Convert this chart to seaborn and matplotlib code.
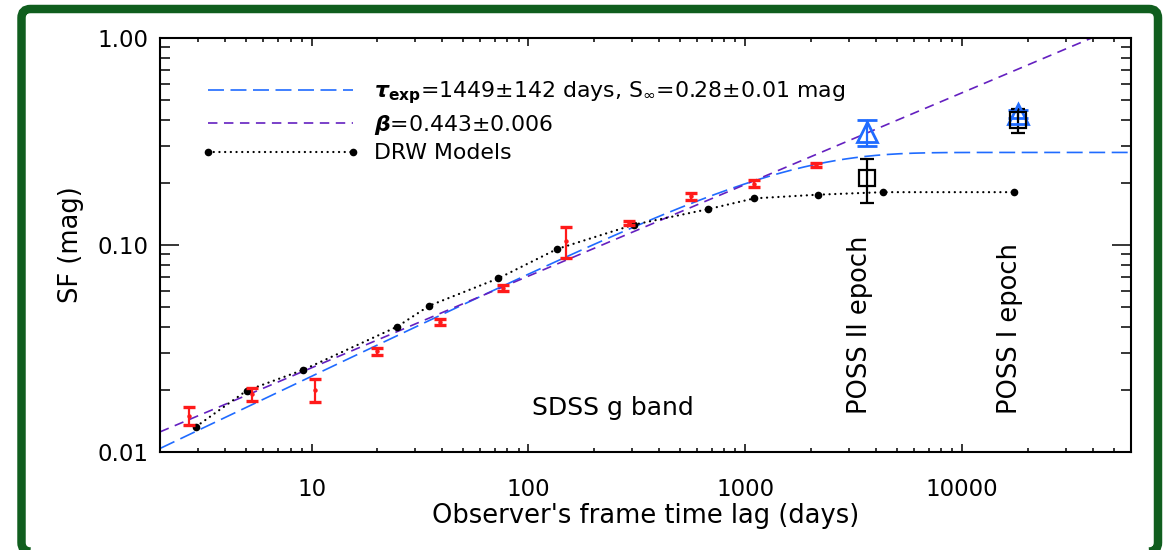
import numpy as np
import matplotlib
matplotlib.use("Agg")
import matplotlib.pyplot as plt
import seaborn as sns
from matplotlib.patches import FancyBboxPatch
from matplotlib.transforms import IdentityTransform
from matplotlib.ticker import FixedLocator, FixedFormatter, LogLocator, NullFormatter

# ---------------- data ----------------
sdss_lag = [2.72, 5.33, 10.35, 20.0, 39.2, 76.6, 148.6, 290.8, 560.7, 1091, 2128]
sdss_sf = [0.0150, 0.0190, 0.0200, 0.0306, 0.0424, 0.0621, 0.1040, 0.128, 0.172, 0.198, 0.2435]
sdss_err = [0.0015, 0.0013, 0.0025, 0.0012, 0.0013, 0.0019, 0.0175, 0.0033, 0.007, 0.0075, 0.006]

drw_lag = [2.93, 5.02, 9.12, 24.8, 34.9, 72.6, 135.7, 305.5, 674, 1099, 2158, 4325, 17260]
drw_sf = [0.01325, 0.0198, 0.0249, 0.0403, 0.0509, 0.069, 0.0957, 0.1253, 0.149, 0.168, 0.175, 0.180, 0.180]

poss_lag = [3627, 17990]
poss_sf_black = [0.21, 0.40]
poss_err_black = [0.051, 0.052]
poss_sf_blue = [0.35, 0.43]
poss_err_blue = [0.05, 0.02]

TAU_EXP = 1449.0     # days
SF_INF = 0.28        # mag
BETA = 0.443
PL_AMP = 0.0092      # power-law amplitude (SF at 1 day)

x_ticks = [10, 100, 1000, 10000]
x_ticklabels = ["10", "100", "1000", "10000"]
y_ticks = [0.01, 0.1, 1.0]
y_ticklabels = ["0.01", "0.10", "1.00"]

legend_labels = [
    r"$\boldsymbol{\tau}_{\mathbf{exp}}$=1449±142 days, S$_{\infty}$=0.28±0.01 mag",
    r"$\boldsymbol{\beta}$=0.443±0.006",
    "DRW Models",
]

BLUE = "#1F6BFF"
PURPLE = "#6420C0"
RED = "#FF1A1A"
GREEN = "#105E1E"

# ---------------- figure ----------------
sns.set_theme(style="ticks")
plt.rcParams["font.family"] = ["DejaVu Sans"]
plt.rcParams["mathtext.fontset"] = "dejavusans"
plt.rcParams["lines.scale_dashes"] = False

fig = plt.figure(figsize=(11.65, 5.5), dpi=100)
fig.patch.set_facecolor("white")
ax = fig.add_axes([160 / 1165, 1 - 452 / 550, 971 / 1165, 414 / 550])
ax.set_facecolor("white")
ax.set_xscale("log")
ax.set_yscale("log")

t = np.logspace(np.log10(2), np.log10(60000), 500)
sf_drw_fit = SF_INF * np.sqrt(1 - np.exp(-t / TAU_EXP))
sf_pl_fit = PL_AMP * t ** BETA

sns.lineplot(x=t, y=sf_drw_fit, ax=ax, color=BLUE, linewidth=1.2, legend=False, sort=False)
h_blue = ax.lines[-1]
h_blue.set_dashes((11.5, 4.7))

sns.lineplot(x=t, y=sf_pl_fit, ax=ax, color=PURPLE, linewidth=1.2, legend=False, sort=False)
h_purple = ax.lines[-1]
h_purple.set_dashes((6.8, 4.7))

sns.lineplot(x=drw_lag, y=drw_sf, ax=ax, color="black", linewidth=1.6, marker="o",
             markersize=5.5, markeredgewidth=0, legend=False, sort=False)
h_drw = ax.lines[-1]
h_drw.set_dashes((0.1, 4.0))
h_drw.set_dash_capstyle("round")

# SDSS structure function with error bars
ax.errorbar(sdss_lag, sdss_sf, yerr=sdss_err, fmt="o", color=RED, ms=2.2,
            elinewidth=1.6, capsize=4, capthick=2.4, zorder=5)

# POSS points
ax.errorbar(poss_lag, poss_sf_blue, yerr=poss_err_blue, fmt="^", color=BLUE, mfc="none",
            mec=BLUE, ms=15, mew=2.0, elinewidth=1.6, capsize=7, capthick=1.8, zorder=6)
ax.errorbar(poss_lag, poss_sf_black, yerr=poss_err_black, fmt="s", color="black", mfc="none",
            mec="black", ms=11, mew=1.6, elinewidth=1.6, capsize=5, capthick=1.6, zorder=6)

ax.set_xlim(2, 60000)
ax.set_ylim(0.01, 1.0)

# ticks
ax.xaxis.set_major_locator(FixedLocator(x_ticks))
ax.xaxis.set_major_formatter(FixedFormatter(x_ticklabels))
ax.xaxis.set_minor_locator(LogLocator(base=10, subs=np.arange(2, 10), numticks=20))
ax.xaxis.set_minor_formatter(NullFormatter())
ax.yaxis.set_major_locator(FixedLocator(y_ticks))
ax.yaxis.set_major_formatter(FixedFormatter(y_ticklabels))
ax.yaxis.set_minor_locator(LogLocator(base=10, subs=np.arange(2, 10), numticks=20))
ax.yaxis.set_minor_formatter(NullFormatter())

ax.tick_params(which="both", direction="in", top=True, right=True, width=1.1,
               color="black", labelcolor="black", labelsize=16.5)
ax.tick_params(axis="y", which="major", length=14, pad=8)
ax.tick_params(axis="y", which="minor", length=7.5)
ax.tick_params(axis="x", which="major", length=6, pad=19)
ax.tick_params(axis="x", which="minor", length=3)
for s in ax.spines.values():
    s.set_visible(True)
    s.set_linewidth(1.5)
    s.set_color("black")

ax.set_xlabel("Observer's frame time lag (days)", fontsize=18.5, labelpad=1, color="black")
ax.set_ylabel("SF (mag)", fontsize=18.5, labelpad=10, color="black")

# annotations
ax.text(0.4665, 0.106, "SDSS g band", transform=ax.transAxes, fontsize=18,
        ha="center", va="center", color="black")
ax.text(0.721, 0.307, "POSS II epoch", transform=ax.transAxes, fontsize=18.5,
        ha="center", va="center", rotation=90, color="black")
ax.text(0.8754, 0.298, "POSS I epoch", transform=ax.transAxes, fontsize=18.5,
        ha="center", va="center", rotation=90, color="black")

leg = ax.legend([h_blue, h_purple, h_drw], legend_labels, loc="upper left",
                bbox_to_anchor=(0.043, 0.90), frameon=False, fontsize=15.8,
                handlelength=7.2, handletextpad=0.65, labelspacing=0.3,
                borderpad=0, borderaxespad=0, numpoints=2)
for txt in leg.get_texts():
    txt.set_color("black")

# green rounded frame (pixel coordinates)
frame = FancyBboxPatch((21.5, -1.5), 1136.5, 542.5, boxstyle="round,pad=0,rounding_size=9",
                       transform=IdentityTransform(), facecolor="none", edgecolor=GREEN,
                       linewidth=6.1, clip_on=False)
fig.patches.append(frame)

fig.savefig("out.png", dpi=100)
